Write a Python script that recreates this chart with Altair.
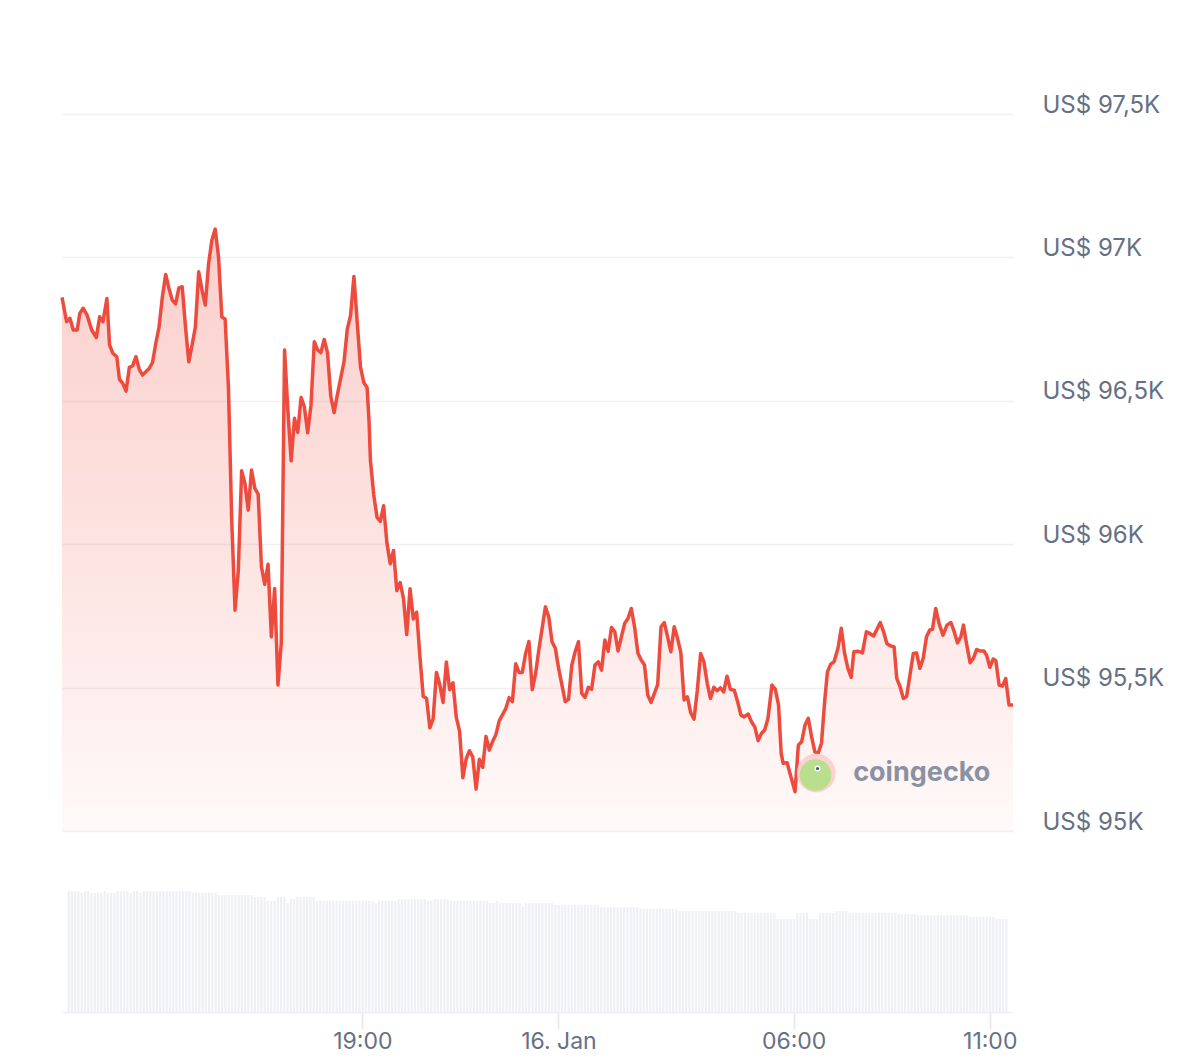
import altair as alt
import pandas as pd

# ---------------- data ----------------
TIMES = [
    "11:28", "11:35", "11:40", "11:45", "11:51", "11:55", "12:00", "12:06", "12:13", "12:20",
    "12:25", "12:30", "12:36", "12:40", "12:45", "12:51", "12:55", "13:00", "13:05", "13:10",
    "13:15", "13:20", "13:25", "13:30", "13:40", "13:45", "13:50", "13:55", "14:00", "14:05",
    "14:10", "14:15", "14:20", "14:25", "14:30", "14:35", "14:40", "14:45", "14:50", "14:55",
    "15:00", "15:05", "15:10", "15:15", "15:20", "15:25", "15:30", "15:35", "15:40", "15:45",
    "15:50", "15:55", "16:00", "16:05", "16:10", "16:15", "16:20", "16:25", "16:30", "16:35",
    "16:40", "16:45", "16:50", "16:55", "17:00", "17:05", "17:10", "17:15", "17:20", "17:25",
    "17:30", "17:35", "17:40", "17:45", "17:50", "17:55", "18:00", "18:05", "18:10", "18:15",
    "18:20", "18:25", "18:35", "18:40", "18:45", "18:50", "18:55", "19:00", "19:05", "19:10",
    "19:13", "19:15", "19:20", "19:25", "19:30", "19:35", "19:40", "19:45", "19:50", "19:55",
    "20:00", "20:05", "20:10", "20:15", "20:20", "20:25", "20:30", "20:35", "20:40", "20:45",
    "20:50", "20:55", "21:00", "21:05", "21:10", "21:15", "21:20", "21:25", "21:30", "21:35",
    "21:40", "21:45", "21:50", "21:55", "22:00", "22:05", "22:10", "22:15", "22:20", "22:25",
    "22:30", "22:40", "22:45", "22:50", "22:55", "23:00", "23:05", "23:10", "23:15", "23:20",
    "23:25", "23:30", "23:40", "23:45", "23:50", "23:55", "00:00", "00:10", "00:15", "00:20",
    "00:25", "00:30", "00:35", "00:40", "00:45", "00:50", "00:55", "01:00", "01:05", "01:10",
    "01:15", "01:20", "01:25", "01:30", "01:35", "01:40", "01:45", "01:50", "01:55", "02:00",
    "02:05", "02:10", "02:15", "02:20", "02:25", "02:30", "02:35", "02:40", "02:45", "02:50",
    "02:55", "03:00", "03:05", "03:10", "03:15", "03:20", "03:25", "03:30", "03:35", "03:40",
    "03:45", "03:50", "03:55", "04:00", "04:05", "04:10", "04:15", "04:20", "04:26", "04:31",
    "04:36", "04:41", "04:47", "04:52", "04:57", "05:02", "05:07", "05:12", "05:17", "05:23",
    "05:28", "05:33", "05:37", "05:40", "05:46", "05:51", "05:58", "06:03", "06:08", "06:13",
    "06:18", "06:23", "06:28", "06:33", "06:38", "06:43", "06:47", "06:52", "06:57", "07:03",
    "07:08", "07:13", "07:18", "07:23", "07:27", "07:33", "07:40", "07:46", "07:51", "07:57",
    "08:07", "08:12", "08:17", "08:22", "08:28", "08:32", "08:37", "08:42", "08:47", "08:52",
    "08:57", "09:02", "09:07", "09:12", "09:17", "09:22", "09:26", "09:31", "09:36", "09:42",
    "09:48", "09:54", "09:59", "10:04", "10:09", "10:13", "10:18", "10:23", "10:28", "10:33",
    "10:38", "10:44", "10:48", "10:53", "10:58", "11:02", "11:07", "11:12", "11:17", "11:22",
    "11:28",
]

PRICES = [
    96861, 96776, 96788, 96747, 96747, 96805, 96823, 96799, 96747, 96721,
    96793, 96776, 96857, 96695, 96666, 96654, 96575, 96561, 96534, 96617,
    96622, 96654, 96610, 96590, 96613, 96633, 96700, 96758, 96863, 96941,
    96892, 96851, 96838, 96894, 96898, 96758, 96636, 96695, 96758, 96950,
    96886, 96834, 96979, 97061, 97099, 97002, 96793, 96785, 96549, 96084,
    95770, 95910, 96256, 96212, 96119, 96259, 96195, 96175, 95921, 95860,
    95930, 95677, 95846, 95509, 95654, 96677, 96468, 96291, 96439, 96390,
    96512, 96479, 96389, 96485, 96706, 96678, 96668, 96714, 96668, 96516,
    96459, 96522, 96636, 96750, 96798, 96934, 96774, 96618, 96564, 96546,
    96425, 96293, 96173, 96094, 96080, 96134, 96004, 95932, 95978, 95838,
    95866, 95812, 95685, 95845, 95739, 95763, 95607, 95469, 95463, 95360,
    95391, 95553, 95511, 95448, 95589, 95493, 95517, 95397, 95348, 95186,
    95252, 95280, 95258, 95146, 95250, 95222, 95330, 95282, 95312, 95336,
    95384, 95427, 95465, 95451, 95583, 95553, 95553, 95619, 95661, 95493,
    95547, 95631, 95782, 95747, 95660, 95637, 95567, 95451, 95459, 95579,
    95625, 95660, 95480, 95466, 95501, 95494, 95579, 95590, 95561, 95666,
    95627, 95710, 95695, 95628, 95677, 95724, 95741, 95776, 95712, 95621,
    95596, 95579, 95474, 95448, 95480, 95511, 95712, 95727, 95677, 95625,
    95712, 95672, 95623, 95457, 95468, 95412, 95390, 95491, 95619, 95590,
    95515, 95462, 95501, 95489, 95499, 95485, 95540, 95494, 95491, 95451,
    95404, 95398, 95408, 95381, 95363, 95315, 95340, 95352, 95393, 95509,
    95495, 95439, 95271, 95236, 95238, 95195, 95137, 95300, 95311, 95369,
    95393, 95329, 95276, 95271, 95306, 95457, 95555, 95582, 95590, 95637,
    95707, 95619, 95567, 95536, 95625, 95627, 95621, 95695, 95689, 95680,
    95727, 95695, 95654, 95646, 95642, 95532, 95503, 95462, 95470, 95544,
    95619, 95621, 95567, 95602, 95677, 95701, 95703, 95776, 95724, 95683,
    95718, 95727, 95695, 95656, 95677, 95718, 95648, 95587, 95602, 95633,
    95628, 95628, 95613, 95571, 95600, 95594, 95509, 95505, 95532, 95439,
    95439,
]

# 24h volume (US$ bn) per 5-minute bar, as (value, number of bars)
VOLUME_RUNS = [
    (48.4, 4), (47.6, 1), (48.4, 2), (47.6, 4), (48.4, 1), (47.6, 3), (48.4, 4),
    (47.6, 1), (48.4, 2), (47.6, 1), (48.4, 15), (47.6, 4),
    (47.6, 4), (46.8, 11),
    (46.0, 4), (44.4, 3), (46.0, 3), (43.6, 1), (45.2, 2), (46.0, 6),
    (44.4, 18), (43.6, 1), (44.4, 6),
    (45.2, 9), (44.4, 2), (45.2, 5), (44.4, 12),
    (43.6, 2), (44.4, 1), (43.6, 7), (42.0, 1), (43.6, 9),
    (42.8, 14), (42.0, 12), (41.2, 12), (40.4, 18), (39.6, 12),
    (37.2, 6), (39.6, 4), (37.2, 3),
    (39.6, 5), (40.4, 4), (39.6, 15),
    (39.2, 6), (38.8, 16), (38.0, 8), (37.2, 4),
]

Y_TICKS = [95000, 95500, 96000, 96500, 97000, 97500]
PRICE_FLOOR = 95000
WATERMARK_TEXT = "coingecko"

# ---------------- tables ----------------
day = 15
prev = None
stamps = []
for t in TIMES:
    h, m = map(int, t.split(":"))
    if prev is not None and h * 60 + m < prev:
        day += 1
    prev = h * 60 + m
    stamps.append(f"2025-01-{day:02d}T{t}:00")
price_df = pd.DataFrame({"time": stamps, "price": PRICES})

volumes = []
for v, n in VOLUME_RUNS:
    volumes += [v] * n
vol_times = pd.date_range("2025-01-15 11:30:30", periods=len(volumes), freq="5min")
vol_df = pd.DataFrame({"time": vol_times.strftime("%Y-%m-%dT%H:%M:%S"), "volume": volumes})

wm_df = pd.DataFrame({
    "time": ["2025-01-16T06:30:00", "2025-01-16T06:29:00", "2025-01-16T06:32:00", "2025-01-16T06:32:00", "2025-01-16T07:26:00"],
    "price": [95202, 95195, 95218, 95218, 95202],
    "kind": ["ring", "body", "eye", "pupil", "text"],
})

start = alt.DateTime(year=2025, month=1, date=15, hours=11, minutes=28)
end = alt.DateTime(year=2025, month=1, date=16, hours=11, minutes=28)
x_ticks = [
    alt.DateTime(year=2025, month=1, date=15, hours=19),
    alt.DateTime(year=2025, month=1, date=16, hours=0),
    alt.DateTime(year=2025, month=1, date=16, hours=6),
    alt.DateTime(year=2025, month=1, date=16, hours=11),
]

LABEL_COLOR = "#667085"
FONT = "Inter"
RED = "#ed4b3e"

x_scale = alt.Scale(domain=[start, end])
y_scale = alt.Scale(domain=[95000, 97870], nice=False, zero=False)

x_price = alt.X("time:T", scale=x_scale, axis=None)
y_price = alt.Y(
    "price:Q",
    scale=y_scale,
    axis=alt.Axis(
        orient="right", values=Y_TICKS, title=None, grid=True, domain=False, ticks=False,
        gridColor="#eff0f3", gridWidth=1.6, labelPadding=29, labelFontSize=24,
        labelColor=LABEL_COLOR, labelFont=FONT, labelBaseline="alphabetic", labelAlign="left",
        labelOffset=-2,
        labelExpr="'US$ ' + replace(format(datum.value / 1000, '.1~f'), '.', ',') + 'K'",
    ),
)

gradient = alt.Gradient(
    gradient="linear",
    stops=[
        alt.GradientStop(color="rgba(239,76,62,0.27)", offset=0),
        alt.GradientStop(color="rgba(239,76,62,0.15)", offset=0.55),
        alt.GradientStop(color="rgba(239,76,62,0.03)", offset=1),
    ],
    x1=0, x2=0, y1=0, y2=1,
)

area = alt.Chart(price_df).mark_area(color=gradient, interpolate="linear").encode(
    x=x_price, y=y_price, y2=alt.datum(PRICE_FLOOR)
)
line = alt.Chart(price_df).mark_line(color=RED, strokeWidth=3.5, strokeJoin="round").encode(x=x_price, y=y_price)

wm_base = alt.Chart(wm_df)
ring = wm_base.transform_filter(alt.datum.kind == "ring").mark_circle(size=1500, color="#f9cfca", opacity=0.9).encode(x=x_price, y=y_price)
body = wm_base.transform_filter(alt.datum.kind == "body").mark_circle(size=1000, color="#b8de8e", opacity=1).encode(x=x_price, y=y_price)
eye = wm_base.transform_filter(alt.datum.kind == "eye").mark_circle(size=36, color="#ffffff", opacity=1).encode(x=x_price, y=y_price)
pupil = wm_base.transform_filter(alt.datum.kind == "pupil").mark_circle(size=10, color="#4a5568", opacity=1).encode(x=x_price, y=y_price)
wtext = wm_base.transform_filter(alt.datum.kind == "text").mark_text(
    text=WATERMARK_TEXT, font=FONT, fontSize=27, fontWeight="bold", color="#7d879a",
    align="left", baseline="middle", opacity=0.9,
).encode(x=x_price, y=y_price)

price_chart = alt.layer(area, line, ring, body, eye, pupil, wtext).properties(width=951, height=823)

vol_chart = alt.Chart(vol_df).mark_bar(size=2.2, color="#eff0f4").encode(
    x=alt.X(
        "time:T", scale=x_scale,
        axis=alt.Axis(
            values=x_ticks, title=None, grid=False, domainColor="#eceef2", domainWidth=1.6,
            tickColor="#e6e8ec", tickWidth=1.6, tickSize=17, labelFontSize=23,
            labelColor=LABEL_COLOR, labelFont=FONT, labelPadding=1, labelFlush=False,
            labelExpr="hours(datum.value) == 0 ? timeFormat(datum.value, '%d. %b') : timeFormat(datum.value, '%H:%M')",
        ),
    ),
    y=alt.Y("volume:Q", scale=alt.Scale(domain=[0, 71.2], nice=False), axis=None),
).properties(width=951, height=178)

chart = alt.vconcat(price_chart, vol_chart, spacing=0).properties(
    padding={"left": 52, "top": 0, "right": 5, "bottom": 0}
).configure(font=FONT).configure_view(stroke=None)

chart.save("out.html", embed_options={"renderer": "svg", "actions": False})
